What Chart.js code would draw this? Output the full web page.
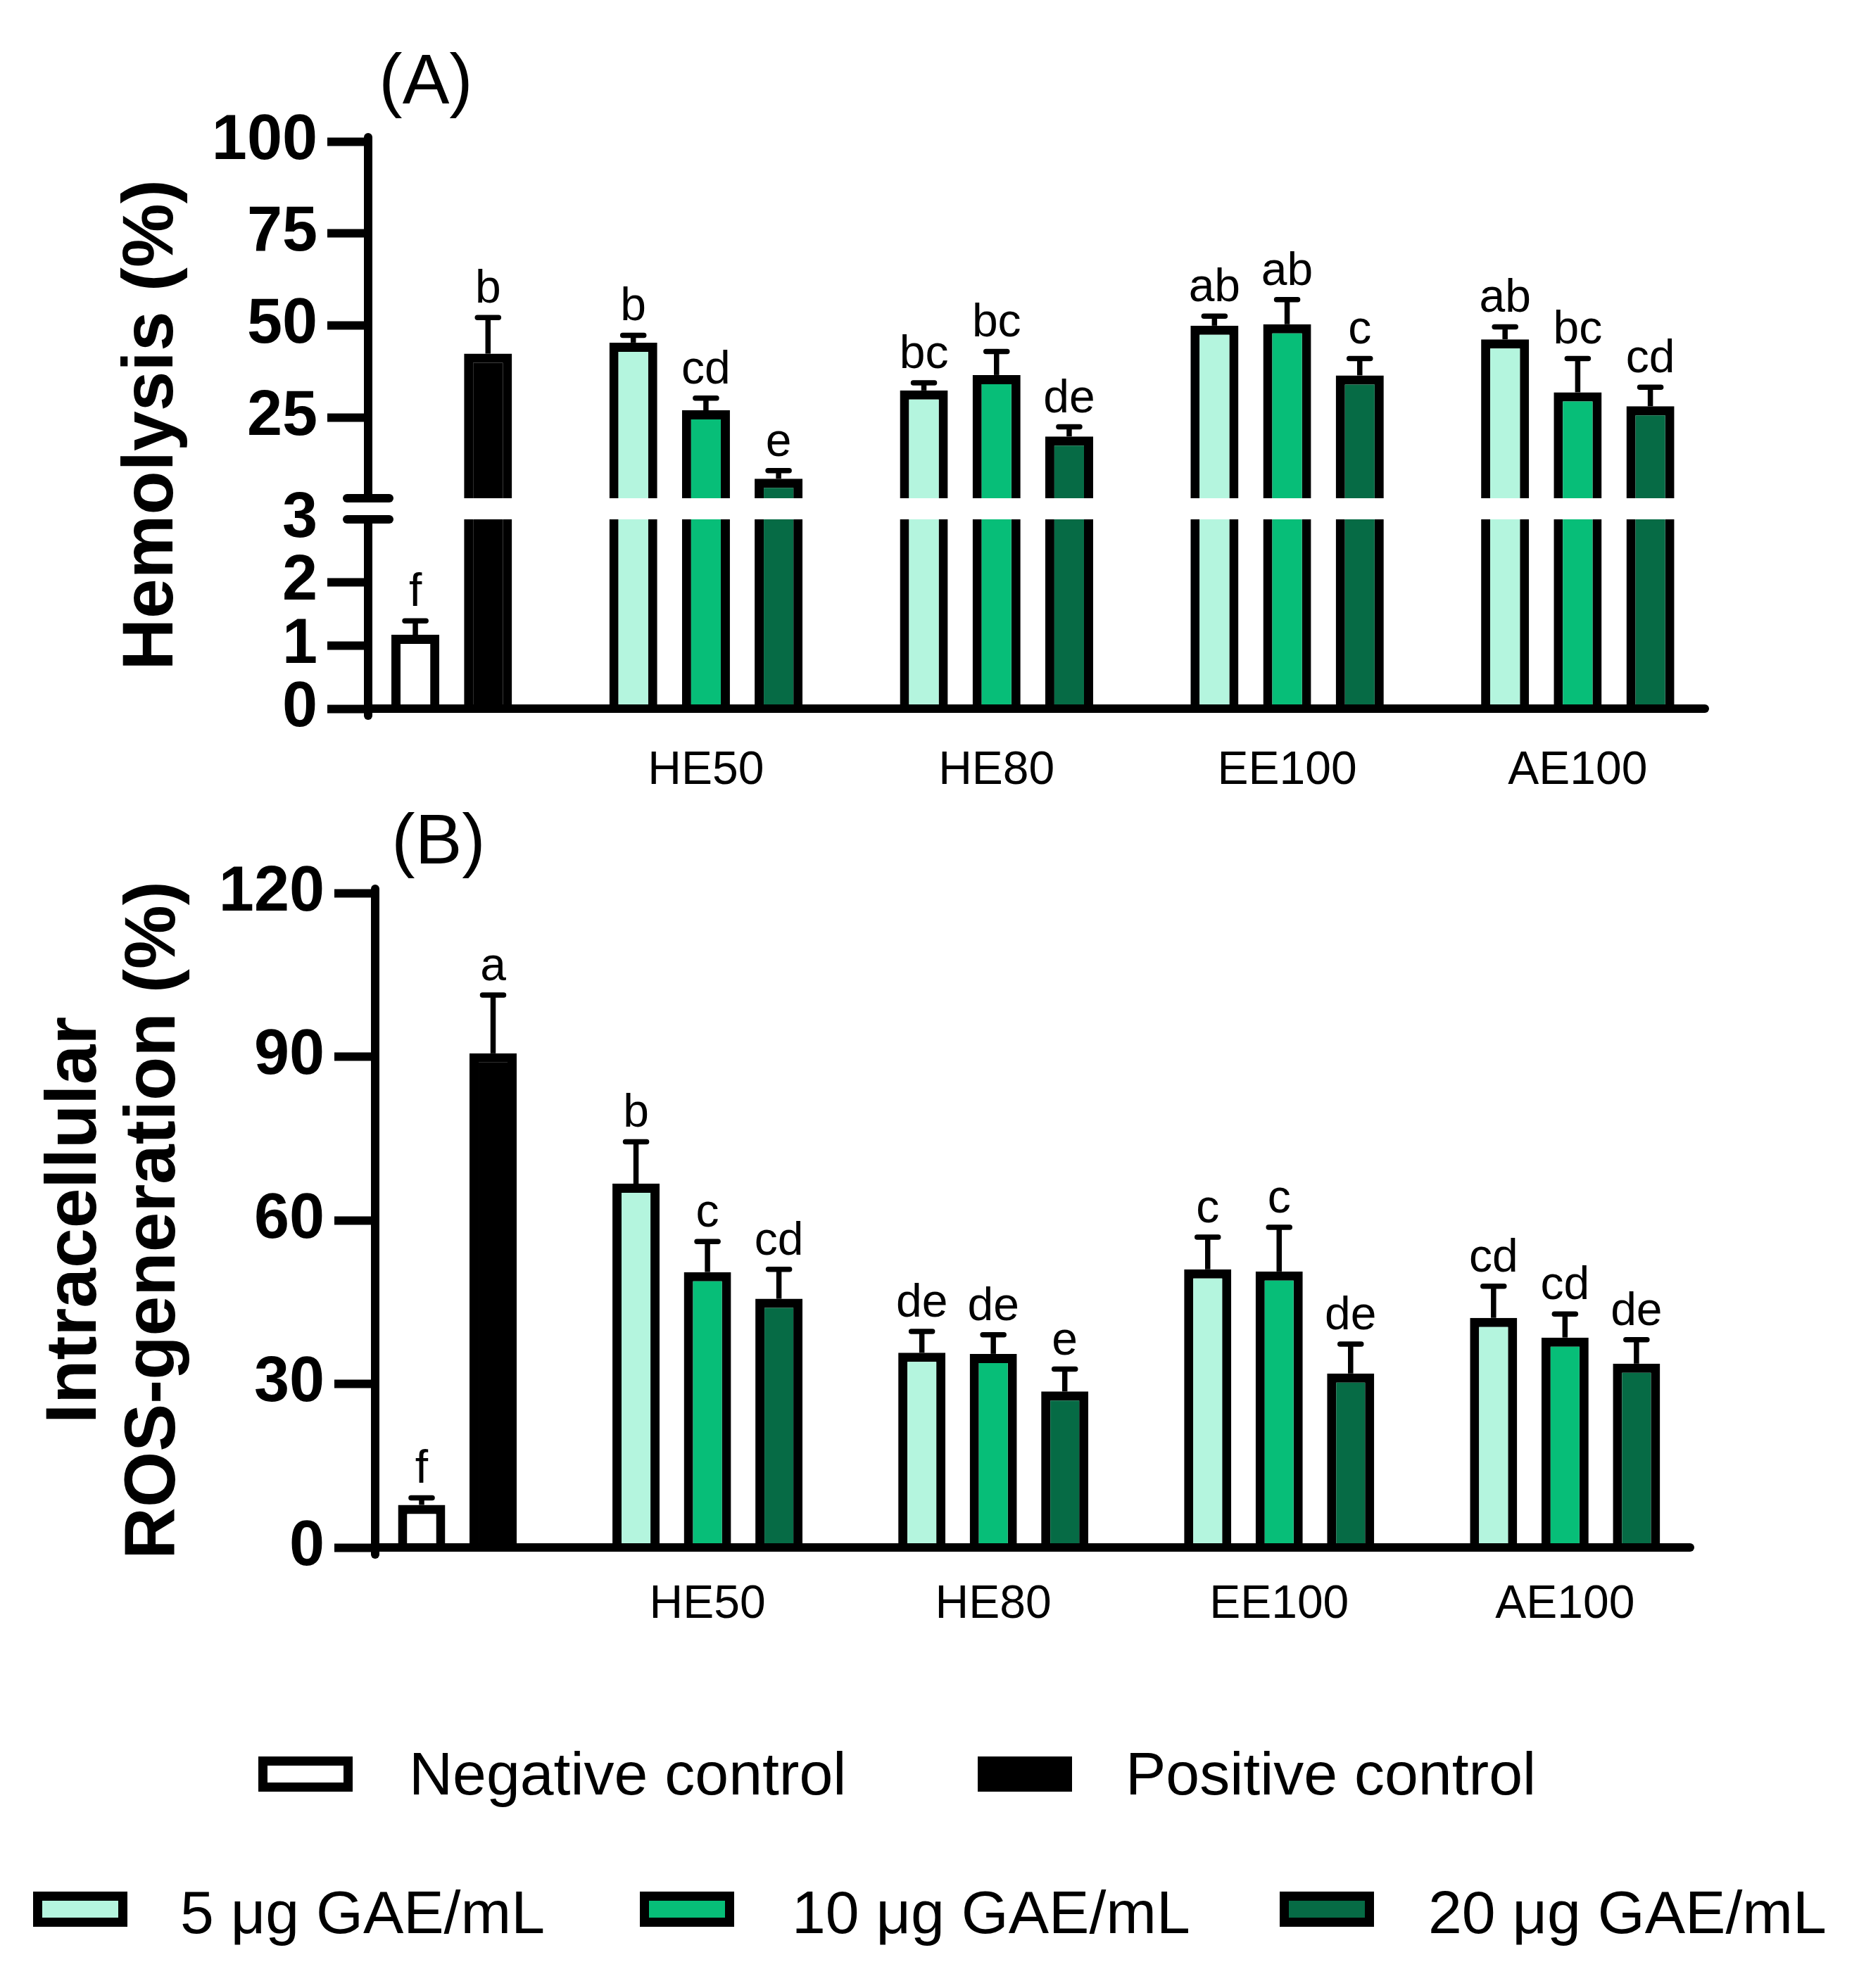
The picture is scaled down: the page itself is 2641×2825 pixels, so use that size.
<!DOCTYPE html>
<html>
<head>
<meta charset="utf-8">
<script src="https://cdn.jsdelivr.net/npm/chart.js@4.4.1/dist/chart.umd.min.js"></script>
<style>
  html, body { margin: 0; padding: 0; background: #fff; }
  #page { position: relative; width: 2641px; height: 2825px; background: #fff; font-family: "Liberation Sans", Arial, sans-serif; }
  #wrapA { position: absolute; left: 0; top: 0; width: 2641px; height: 1150px; }
  #wrapB { position: absolute; left: 0; top: 1150px; width: 2641px; height: 1180px; }
  .lg-box { position: absolute; box-sizing: border-box; border: 13px solid #000; width: 134px; height: 50px; }
  .lg-text { position: absolute; font-size: 86px; line-height: 86px; white-space: nowrap; color: #000; }
</style>
</head>
<body>
<div id="page">
  <div id="wrapA"><canvas id="hemo"></canvas></div>
  <div id="wrapB"><canvas id="ros"></canvas></div>
</div>
<script>
// categories
const extracts = ['HE50', 'HE80', 'EE100', 'AE100'];
const controlNames = ['Negative control', 'Positive control'];
const doseNames = ['5 μg GAE/mL', '10 μg GAE/mL', '20 μg GAE/mL'];
const controlColors = ['#ffffff', '#000000'];
const doseColors = ['#b4f5de', '#07be78', '#066b45'];

// (A) hemolysis, % (mean, upper error, letters)
const hemoControl = [1.17, 42.3];   // negative, positive
const hemoControlErr = [0.22, 9.8];
const hemoControlTag = ['f', 'b'];
const hemo5 = [45.3, 32.3, 49.9, 46.2];
const hemo5Err = [2.0, 2.1, 2.6, 3.4];
const hemo5Tag = ['b', 'bc', 'ab', 'ab'];
const hemo10 = [26.9, 36.5, 50.3, 31.8];
const hemo10Err = [3.3, 6.4, 6.7, 9.2];
const hemo10Tag = ['cd', 'bc', 'ab', 'bc'];
const hemo20 = [8.3, 19.8, 36.4, 28.0];
const hemo20Err = [2.2, 2.6, 4.6, 5.2];
const hemo20Tag = ['e', 'de', 'c', 'cd'];
const hemoTicksLow = [0, 1, 2, 3];
const hemoTicksHigh = [25, 50, 75, 100];
const hemoBreak = 3;

// (B) intracellular ROS generation, %
const rosControl = [7.8, 90.6];
const rosControlErr = [1.3, 10.7];
const rosControlTag = ['f', 'a'];
const ros5 = [66.7, 35.7, 51.0, 42.1];
const ros5Err = [7.7, 3.9, 5.9, 5.8];
const ros5Tag = ['b', 'de', 'c', 'cd'];
const ros10 = [50.5, 35.5, 50.6, 38.5];
const ros10Err = [5.6, 3.5, 8.1, 4.3];
const ros10Tag = ['c', 'de', 'c', 'cd'];
const ros20 = [45.6, 28.6, 31.9, 33.7];
const ros20Err = [5.4, 4.1, 5.4, 4.4];
const ros20Tag = ['cd', 'e', 'de', 'de'];
const rosTicks = [0, 30, 60, 90, 120];

const FONT = '"Liberation Sans", Arial, sans-serif';

// slot 0/1 = controls, then groups of 3 doses separated by one empty slot
function buildSeries(ctrl, ctrlErr, ctrlTag, doses) {
  const out = controlNames.map((name, i) => ({
    name, color: controlColors[i],
    points: [{ slot: i, v: ctrl[i], err: ctrlErr[i], tag: ctrlTag[i] }]
  }));
  doses.forEach((d, k) => {
    out.push({
      name: doseNames[k], color: doseColors[k],
      points: extracts.map((_, g) => ({ slot: 3 + 4 * g + k, v: d.v[g], err: d.err[g], tag: d.tag[g] }))
    });
  });
  return out;
}

const hemoSeries = buildSeries(hemoControl, hemoControlErr, hemoControlTag, [
  { v: hemo5, err: hemo5Err, tag: hemo5Tag },
  { v: hemo10, err: hemo10Err, tag: hemo10Tag },
  { v: hemo20, err: hemo20Err, tag: hemo20Tag }
]);
const rosSeries = buildSeries(rosControl, rosControlErr, rosControlTag, [
  { v: ros5, err: ros5Err, tag: ros5Tag },
  { v: ros10, err: ros10Err, tag: ros10Tag },
  { v: ros20, err: ros20Err, tag: ros20Tag }
]);

const barCommon = {
  borderColor: '#000',
  borderWidth: 13,
  borderSkipped: 'start',
  barPercentage: 0.66,
  categoryPercentage: 1,
  stack: 'one'
};

function xScale(height, pad) {
  return {
    type: 'linear', position: 'bottom', min: -0.65, max: 17.75, offset: false,
    grid: { display: false, drawTicks: false, offset: false },
    border: { display: false },
    ticks: {
      autoSkip: false, maxRotation: 0, padding: pad, color: '#000',
      font: { family: FONT, size: 66 },
      callback: (v, i) => extracts[i]
    },
    afterBuildTicks: s => { s.ticks = extracts.map((_, g) => ({ value: 4 + 4 * g })); },
    afterFit: s => { s.height = height; }
  };
}

function yScale(extra, width, ticks) {
  return Object.assign({
    type: 'linear', position: 'left', stacked: false,
    border: { display: false },
    grid: {
      display: true, drawOnChartArea: false, drawTicks: true,
      tickLength: 58, tickWidth: 12, tickColor: '#000'
    },
    ticks: { autoSkip: false, padding: 14, color: '#000', font: { family: FONT, size: 90, weight: 'bold' } },
    afterBuildTicks: s => { s.ticks = ticks.map(v => ({ value: v })); },
    afterFit: s => { s.width = width; }
  }, extra);
}

function line(ctx, x1, y1, x2, y2) {
  ctx.beginPath(); ctx.moveTo(x1, y1); ctx.lineTo(x2, y2); ctx.stroke();
}

// axes, break, error bars, letters, titles
function panelDecor(cfg) {
  return {
    id: 'panelDecor',
    afterDatasetsDraw(chart) {
      const { ctx, chartArea: a } = chart;
      const xs = chart.scales.x;
      ctx.save();
      ctx.strokeStyle = '#000';
      ctx.fillStyle = '#000';
      ctx.lineWidth = 12;
      ctx.lineCap = 'round';
      line(ctx, a.left, a.top - 6, a.left, a.bottom + 10);
      line(ctx, a.left, a.bottom, a.right, a.bottom);

      if (cfg.broken) {
        const yTop = chart.scales.yHigh.getPixelForValue(hemoBreak);
        const yBot = chart.scales.yLow.getPixelForValue(hemoBreak);
        ctx.fillStyle = '#fff';
        ctx.fillRect(a.left - 12, yTop + 6, 24, yBot - yTop - 12);
        ctx.fillStyle = '#000';
        line(ctx, a.left - 30, yTop, a.left + 30, yTop);
        line(ctx, a.left - 30, yBot, a.left + 30, yBot);
      }

      ctx.font = '66px ' + FONT;
      ctx.textAlign = 'center';
      ctx.textBaseline = 'alphabetic';
      cfg.series.forEach(s => s.points.forEach(p => {
        const x = xs.getPixelForValue(p.slot);
        const y0 = cfg.yPix(chart, p.v);
        const y1 = cfg.yPix(chart, p.v + p.err);
        ctx.lineWidth = 7.5;
        ctx.lineCap = 'butt';
        line(ctx, x, y0, x, y1);
        ctx.lineCap = 'round';
        line(ctx, x - 15, y1, x + 15, y1);
        ctx.fillText(p.tag, x, y1 - 21);
      }));

      ctx.font = '100px ' + FONT;
      ctx.fillText(cfg.tag, a.left + cfg.tagDx, a.top - cfg.tagDy);

      ctx.font = 'bold 102px ' + FONT;
      const midY = (a.top + a.bottom) / 2;
      cfg.title.forEach((t, i) => {
        ctx.save();
        ctx.translate(a.left - cfg.titleDx[i], midY);
        ctx.rotate(-Math.PI / 2);
        ctx.fillText(t, 0, 0);
        ctx.restore();
      });
      ctx.restore();
    }
  };
}

const baseOptions = {
  responsive: true,
  maintainAspectRatio: false,
  devicePixelRatio: 1,
  animation: false,
  plugins: { legend: { display: false }, tooltip: { enabled: false } }
};

// (A) broken axis: low part 0..3, high part 3..100 on two stacked y scales
const hemoDatasets = [];
hemoSeries.forEach(s => {
  hemoDatasets.push(Object.assign({}, barCommon, {
    label: s.name, yAxisID: 'yLow', backgroundColor: s.color,
    data: s.points.map(p => ({ x: p.slot, y: Math.min(p.v, hemoBreak) })),
    borderWidth: c => ({ left: 13, right: 13, bottom: 0, top: c.raw && c.raw.y < hemoBreak ? 13 : 0 })
  }));
  hemoDatasets.push(Object.assign({}, barCommon, {
    label: s.name, yAxisID: 'yHigh', backgroundColor: s.color,
    data: s.points.filter(p => p.v > hemoBreak).map(p => ({ x: p.slot, y: [hemoBreak, p.v] }))
  }));
});

new Chart(document.getElementById('hemo'), {
  type: 'bar',
  data: { datasets: hemoDatasets },
  options: Object.assign({}, baseOptions, {
    layout: { autoPadding: false, padding: { top: 201, right: 219, bottom: 0, left: 0 } },
    scales: {
      x: xScale(143, 49),
      yLow: yScale({
        min: 0, max: 3, stack: 'hemo', stackWeight: 269,
        grid: {
          display: true, drawOnChartArea: false, drawTicks: true,
          tickLength: 58, tickWidth: 12,
          tickColor: c => (c.tick && c.tick.value === hemoBreak ? 'rgba(0,0,0,0)' : '#000')
        }
      }, 523, hemoTicksLow),
      yHigh: yScale({ min: -2.74, max: 100, stack: 'hemo', stackWeight: 537 }, 523, hemoTicksHigh)
    }
  }),
  plugins: [panelDecor({
    series: hemoSeries,
    broken: true,
    yPix: (chart, v) => (v > hemoBreak ? chart.scales.yHigh : chart.scales.yLow).getPixelForValue(v),
    tag: '(A)', tagDx: 82, tagDy: 54,
    title: ['Hemolysis (%)'], titleDx: [278]
  })]
});

// (B)
new Chart(document.getElementById('ros'), {
  type: 'bar',
  data: {
    datasets: rosSeries.map(s => Object.assign({}, barCommon, {
      label: s.name, backgroundColor: s.color,
      data: s.points.map(p => ({ x: p.slot, y: p.v }))
    }))
  },
  options: Object.assign({}, baseOptions, {
    layout: { autoPadding: false, padding: { top: 119, right: 240, bottom: 0, left: 0 } },
    scales: {
      x: xScale(131, 42),
      y: yScale({ min: 0, max: 120 }, 533, rosTicks)
    }
  }),
  plugins: [panelDecor({
    series: rosSeries,
    broken: false,
    yPix: (chart, v) => chart.scales.y.getPixelForValue(v),
    tag: '(B)', tagDx: 90, tagDy: 42,
    title: ['Intracellular', 'ROS-generation (%)'], titleDx: [397, 285]
  })]
});

// legend (two rows under the charts)
const legendSlots = [
  { box: [367, 2496], text: [581, 2477] },
  { box: [1389, 2496], text: [1599, 2477] },
  { box: [47, 2688], text: [256, 2674] },
  { box: [909, 2688], text: [1125, 2674] },
  { box: [1818, 2688], text: [2029, 2674] }
];
const page = document.getElementById('page');
rosSeries.forEach((s, i) => {
  const b = document.createElement('div');
  b.className = 'lg-box';
  b.style.left = legendSlots[i].box[0] + 'px';
  b.style.top = legendSlots[i].box[1] + 'px';
  b.style.background = s.color;
  page.appendChild(b);
  const t = document.createElement('div');
  t.className = 'lg-text';
  t.style.left = legendSlots[i].text[0] + 'px';
  t.style.top = legendSlots[i].text[1] + 'px';
  t.textContent = s.name;
  page.appendChild(t);
});
</script>
</body>
</html>
